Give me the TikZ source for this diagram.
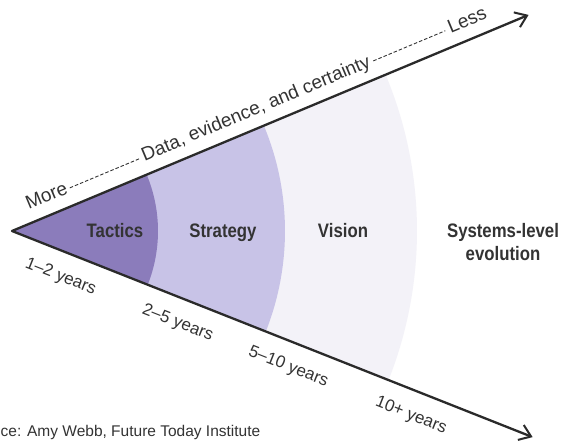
\documentclass[tikz,border=0pt]{standalone}
\usepackage{fontspec}
\setmainfont{Liberation Sans}
\newfontfamily\zonefont{Liberation Sans Bold}[FakeStretch=0.86]
\usetikzlibrary{arrows.meta}

\definecolor{ink}{HTML}{333333}
\definecolor{axisink}{HTML}{2A2A2A}
\definecolor{tacticsfill}{HTML}{8B7CBB}
\definecolor{strategyfill}{HTML}{C8C3E7}
\definecolor{visionfill}{HTML}{F3F2F8}

\begin{document}
\begin{tikzpicture}[x=1pt,y=1pt,
  axis/.style={draw=axisink, line width=2.3pt, line join=round,
    {Straight Barb[length=11pt,width=16pt,line width=2pt]}-{Straight Barb[length=11pt,width=16pt,line width=2pt]}},
  toptext/.style={font=\fontsize{19}{22}\selectfont, text=ink, inner sep=0pt, anchor=base west},
  yeartext/.style={font=\fontsize{17}{20}\selectfont, text=ink, inner sep=0pt, anchor=base},
  zonetext/.style={font=\zonefont\fontsize{19.5}{23}\selectfont, text=ink, inner sep=0pt, anchor=base},
  leader/.style={draw=ink, line width=0.9pt, dash pattern=on 3.5pt off 2pt},
]
\useasboundingbox (0,0) rectangle (566,441);
\fill[white] (0,0) rectangle (566,441);
\clip (0,0) rectangle (566,441);

% the cone: apex and the two arrow ends
\coordinate (apex) at (12,210);
\path (apex) ++(22.7:560pt) coordinate (upEnd);
\path (apex) ++(-21.6:560pt) coordinate (lowEnd);

% horizon sectors, widest first
\fill[visionfill] (apex) -- ++(-21.6:405pt) arc[start angle=-21.6, end angle=22.7, radius=405pt] -- cycle;
\fill[strategyfill] (apex) -- ++(-21.6:273pt) arc[start angle=-21.6, end angle=22.7, radius=273pt] -- cycle;
\fill[tacticsfill] (apex) -- ++(-21.6:146pt) arc[start angle=-21.6, end angle=22.7, radius=146pt] -- cycle;

% the two axes
\draw[axis] (upEnd) -- (apex) -- (lowEnd);

% zone names
\node[zonetext] (tactics) at (115,203) {Tactics};
\node[zonetext] (strategy) at (223,203) {Strategy};
\node[zonetext] (vision) at (343,203) {Vision};
\node[zonetext, anchor=north, align=center] (systems) at (503,217.5) {Systems-level\\evolution};

% upper axis: data, evidence, and certainty
\begin{scope}[shift={(apex)}, rotate=22.7, transform shape]
  \node[toptext] (more) at (23.5,13) {More};
  \node[toptext] (data) at (149,13) {Data, evidence, and certainty};
  \node[toptext] (less) at (481,13) {Less};
  \draw[leader] (70,17.5) -- (145,17.5);
  \draw[leader] (399,17.5) -- (477,17.5);
\end{scope}

% lower axis: time horizons
\begin{scope}[shift={(apex)}, rotate=-21.6, transform shape]
  \node[yeartext] (y12) at (62,-29) {1–2 years};
  \node[yeartext] (y25) at (188,-29) {2–5 years};
  \node[yeartext] (y510) at (307,-29) {5–10 years};
  \node[yeartext] (y10) at (439,-29) {10+ years};
\end{scope}

% credit line
\node[font=\fontsize{15.5}{18}\selectfont, text=ink, anchor=base west, inner sep=0pt] (source) at (0.5,4) {ce: Amy Webb, Future Today Institute};
\end{tikzpicture}
\end{document}
